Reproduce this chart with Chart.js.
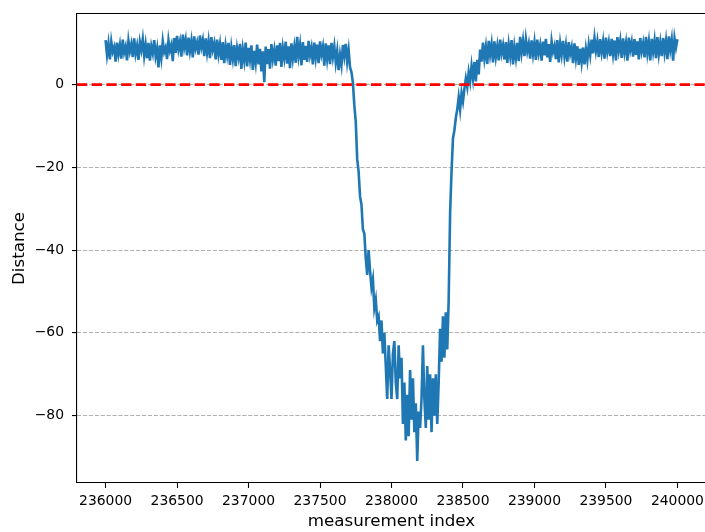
<!DOCTYPE html>
<html>
<head>
<meta charset="utf-8">
<title>Distance</title>
<script src="https://cdn.jsdelivr.net/npm/chart.js@4.4.1/dist/chart.umd.min.js"></script>
<style>
  html, body { margin: 0; padding: 0; background: #fff; overflow: hidden; }
  canvas { display: block; }
</style>
</head>
<body>
<canvas id="distanceChart" width="720" height="532"></canvas>
<script>
// Measurement indices run from firstIndex in steps of indexStep
const firstIndex = 236000;
const indexStep = 10;

// Distance readings, one per step
const distance = [
    10.8, 7.2, 9.9, 6.1, 10.4, 8.0, 9.1, 5.6, 10.2, 7.4,
    9.6, 6.3, 10.9, 7.8, 9.2, 5.9, 10.6, 8.1, 9.8, 6.7,
    11.2, 7.5, 9.4, 6.0, 10.3, 8.4, 11.0, 7.0, 9.7, 6.4,
    10.1, 5.8, 9.3, 7.6, 10.8, 6.9, 8.8, 4.2, 9.5, 6.5,
    10.5, 7.9, 9.0, 6.2, 10.7, 8.3, 9.6, 5.7, 11.3, 7.7,
    11.8, 8.6, 10.4, 6.8, 12.1, 9.0, 10.9, 7.1, 11.4, 8.2,
    10.6, 6.6, 11.7, 8.8, 10.2, 7.3, 11.9, 9.1, 10.8, 6.9,
    11.2, 7.8, 10.5, 6.4, 11.5, 8.5, 10.0, 6.1, 10.9, 7.4,
    9.8, 6.0, 10.3, 5.2, 9.4, 7.1, 10.1, 4.8, 9.0, 6.3,
    9.6, 4.5, 8.8, 6.7, 9.9, 3.8, 8.5, 5.9, 10.2, 4.4,
    8.9, 6.1, 9.5, 3.6, 8.2, 5.4, 9.7, 4.9, 8.7, 3.2,
    8.1, 0.6, 9.2, 5.0, 8.6, 3.9, 9.8, 6.2, 8.4, 4.6,
    9.5, 5.7, 10.1, 4.3, 8.9, 6.5, 10.4, 5.1, 9.3, 4.0,
    10.0, 6.4, 9.1, 5.3, 11.6, 7.0, 9.6, 4.7, 10.3, 6.0,
    9.4, 5.5, 10.6, 7.2, 9.0, 4.9, 10.2, 6.6, 9.7, 5.2,
    10.5, 7.4, 9.2, 4.6, 10.0, 6.3, 9.5, 5.0, 10.1, 6.8,
    9.3, 5.4, 8.1, 3.5, 7.2, 4.8, 9.6, 6.9, 9.9, 5.6,
    8.4, 4.2, 3.0, 0.5, -5, -9, -18, -21, -27, -29,
    -35, -36, -42, -46, -40, -45, -49, -47, -54, -52,
    -57, -56, -62, -57, -65, -60, -68, -76, -63, -69,
    -76, -65, -62, -72, -76, -63, -71, -66, -82, -72,
    -86, -75, -85, -69, -81, -71, -84, -77, -91, -79,
    -83, -76, -63, -76, -83, -68, -81, -70, -84, -71,
    -80, -70, -82, -72, -59, -67, -56, -66, -55, -64,
    -52, -31, -21, -13, -11, -8, -6, -3, -6, -2,
    -4, -1, 1.5, -0.5, 3, 0.8, 4.5, 1.5, 5.5, 0.8,
    6, 2.5, 8.5, 5.6, 10.2, 6.4, 9.1, 5.0, 10.6, 7.3,
    9.8, 5.4, 10.5, 6.8, 9.3, 5.9, 10.9, 7.6, 9.5, 6.1,
    10.3, 5.3, 9.7, 7.0, 10.8, 4.9, 9.2, 6.5, 10.1, 5.7,
    11.6, 7.8, 10.6, 6.9, 11.0, 8.1, 9.9, 6.3, 10.7, 7.4,
    10.2, 6.0, 10.9, 7.7, 9.6, 5.8, 10.4, 7.1, 11.1, 6.6,
    9.8, 5.5, 10.5, 8.0, 9.4, 6.2, 10.8, 5.4, 9.9, 7.3,
    10.6, 6.8, 9.5, 5.6, 10.3, 7.5, 9.1, 5.2, 10.0, 6.4,
    9.3, 4.8, 8.7, 5.5, 9.0, 4.9, 8.6, 6.0, 9.7, 7.2,
    10.9, 7.6, 11.3, 8.2, 10.5, 6.7, 11.0, 7.9, 10.4, 6.3,
    11.4, 8.0, 10.2, 6.9, 11.1, 7.5, 10.7, 5.9, 11.5, 8.3,
    10.6, 6.5, 11.2, 7.8, 10.1, 5.8, 11.4, 8.4, 10.3, 6.8,
    11.0, 7.2, 10.5, 6.1, 11.3, 8.1, 10.0, 6.6, 11.6, 7.7,
    10.4, 5.9, 11.1, 8.0, 10.7, 6.4, 11.5, 7.5, 10.2, 6.9,
    11.3, 7.8, 10.6, 6.2, 11.7, 8.5, 10.9, 5.8, 11.2, 9.0,
    11.0
];

// Zero reference level
const referenceLevel = 0;

// Axis ranges and ticks
const xRange = [235800, 240200];
const yRange = [-96.3, 17.1];
const xTicks = [236000, 236500, 237000, 237500, 238000, 238500, 239000, 239500, 240000];
const yTicks = [-80, -60, -40, -20, 0];

const distancePoints = distance.map((d, i) => ({ x: firstIndex + i * indexStep, y: d }));
const referencePoints = xRange.map(x => ({ x: x, y: referenceLevel }));

const tickFont = { family: 'DejaVu Sans', size: 13.9 };
const titleFont = { family: 'DejaVu Sans', size: 16.7 };

// top (and right) spine of the axes box
const axesFrame = {
    id: 'axesFrame',
    afterDraw(chart) {
        const { ctx, chartArea } = chart;
        ctx.save();
        ctx.strokeStyle = '#000';
        ctx.lineWidth = 1.2;
        ctx.beginPath();
        ctx.moveTo(chartArea.left, chartArea.top - 0.5);
        ctx.lineTo(chartArea.right, chartArea.top - 0.5);
        ctx.lineTo(chartArea.right, chartArea.bottom);
        ctx.stroke();
        ctx.restore();
    }
};

// fixed axis sizes, no extra label padding around the plot box
function fixSize(scale, width, height) {
    if (width) scale.width = width;
    if (height) scale.height = height;
    scale.paddingTop = 0;
    scale.paddingBottom = 0;
    scale.paddingLeft = 0;
    scale.paddingRight = 0;
}

function minusSign(v) {
    return v < 0 ? '\u2212' + Math.abs(v) : String(v);
}

const ctx = document.getElementById('distanceChart').getContext('2d');

new Chart(ctx, {
    type: 'line',
    data: {
        datasets: [
            {
                data: referencePoints,
                borderColor: '#ff0000',
                borderWidth: 2.8,
                borderDash: [10.3, 4.4],
                pointRadius: 0,
                order: 0
            },
            {
                data: distancePoints,
                borderColor: '#1f77b4',
                borderWidth: 2.6,
                pointRadius: 0,
                tension: 0,
                order: 1
            }
        ]
    },
    options: {
        responsive: false,
        animation: false,
        devicePixelRatio: 1,
        layout: {
            autoPadding: false,
            padding: { left: 0, top: 14, right: 14, bottom: 0 }
        },
        plugins: {
            legend: { display: false },
            tooltip: { enabled: false }
        },
        scales: {
            x: {
                type: 'linear',
                min: xRange[0],
                max: xRange[1],
                afterBuildTicks: scale => { scale.ticks = xTicks.map(v => ({ value: v })); },
                afterFit: scale => fixSize(scale, 0, 49),
                ticks: {
                    color: '#000',
                    font: tickFont,
                    padding: 5,
                    maxRotation: 0,
                    autoSkip: false,
                    callback: v => String(v)
                },
                grid: {
                    drawOnChartArea: false,
                    tickLength: 5,
                    tickColor: '#000',
                    tickWidth: 1.1
                },
                border: { color: '#000', width: 1.1 },
                title: {
                    display: true,
                    text: 'measurement index',
                    color: '#000',
                    font: titleFont,
                    padding: { top: 0, bottom: 0 }
                }
            },
            y: {
                min: yRange[0],
                max: yRange[1],
                afterBuildTicks: scale => { scale.ticks = yTicks.map(v => ({ value: v })); },
                afterFit: scale => fixSize(scale, 77, 0),
                ticks: {
                    color: '#000',
                    font: tickFont,
                    padding: 8,
                    callback: v => minusSign(v)
                },
                grid: {
                    color: '#b0b0b0',
                    lineWidth: 1.1,
                    tickLength: 5,
                    tickColor: '#000',
                    tickWidth: 1.1,
                    tickBorderDash: []
                },
                border: { color: '#000', width: 1.1, dash: [4.1, 1.8] },
                title: {
                    display: true,
                    text: 'Distance',
                    color: '#000',
                    font: titleFont,
                    padding: { top: 10, bottom: 0 }
                }
            }
        }
    },
    plugins: [axesFrame]
});
</script>
</body>
</html>
